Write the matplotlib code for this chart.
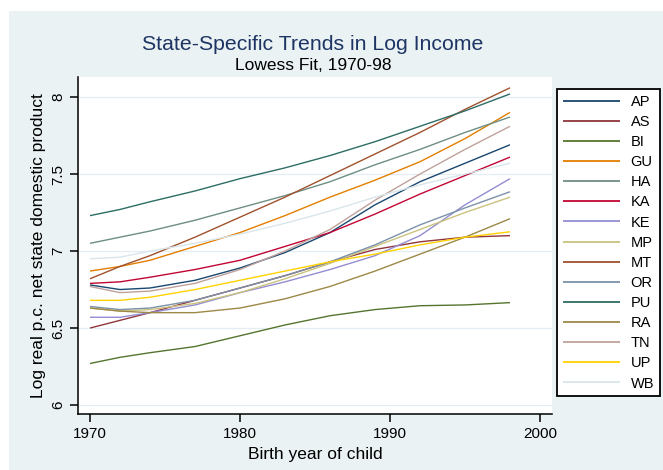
import matplotlib
matplotlib.use("Agg")
import matplotlib.pyplot as plt
from matplotlib.patches import Rectangle

plt.rcParams['font.family'] = ['Liberation Sans', 'DejaVu Sans']

# Birth years at which the smoothed curves are tabulated
years = [1970, 1972, 1974, 1977, 1980, 1983, 1986, 1989, 1992, 1995, 1998]

# Lowess-smoothed log real per-capita NSDP by state
AP = [6.78, 6.75, 6.76, 6.81, 6.89, 6.99, 7.12, 7.30, 7.45, 7.57, 7.69]
AS = [6.50, 6.55, 6.60, 6.68, 6.76, 6.84, 6.93, 7.01, 7.06, 7.09, 7.10]
BI = [6.27, 6.31, 6.34, 6.38, 6.45, 6.52, 6.58, 6.62, 6.645, 6.65, 6.665]
GU = [6.87, 6.90, 6.94, 7.03, 7.12, 7.23, 7.35, 7.46, 7.58, 7.73, 7.90]
HA = [7.05, 7.09, 7.13, 7.20, 7.28, 7.36, 7.45, 7.56, 7.66, 7.77, 7.87]
KA = [6.79, 6.80, 6.83, 6.88, 6.94, 7.03, 7.12, 7.24, 7.37, 7.49, 7.61]
KE = [6.57, 6.57, 6.60, 6.65, 6.73, 6.80, 6.88, 6.97, 7.10, 7.30, 7.47]
MP = [6.63, 6.61, 6.62, 6.66, 6.73, 6.82, 6.92, 7.03, 7.14, 7.25, 7.35]
MT = [6.82, 6.90, 6.97, 7.09, 7.22, 7.35, 7.49, 7.63, 7.77, 7.92, 8.06]
OR = [6.64, 6.62, 6.63, 6.68, 6.76, 6.84, 6.93, 7.04, 7.17, 7.28, 7.385]
PU = [7.23, 7.27, 7.32, 7.39, 7.47, 7.54, 7.62, 7.71, 7.81, 7.91, 8.02]
RA = [6.63, 6.61, 6.60, 6.60, 6.63, 6.69, 6.77, 6.87, 6.98, 7.09, 7.21]
TN = [6.77, 6.73, 6.74, 6.79, 6.88, 7.00, 7.14, 7.33, 7.50, 7.66, 7.81]
UP = [6.68, 6.68, 6.70, 6.75, 6.81, 6.87, 6.93, 6.98, 7.04, 7.09, 7.125]
WB = [6.95, 6.96, 7.00, 7.05, 7.11, 7.18, 7.26, 7.35, 7.43, 7.50, 7.57]

states = ["AP", "AS", "BI", "GU", "HA", "KA", "KE", "MP", "MT",
          "OR", "PU", "RA", "TN", "UP", "WB"]
series = [AP, AS, BI, GU, HA, KA, KE, MP, MT, OR, PU, RA, TN, UP, WB]

# Stata s2color pen sequence
colors = ["#1a476f", "#90353b", "#55752f", "#e37e00", "#6e8e84",
          "#c10534", "#938dd2", "#cac27e", "#a0522d", "#7b92a8",
          "#2d6d66", "#9c8847", "#bfa19c", "#ffd200", "#d9e6eb"]

xticks = [1970, 1980, 1990, 2000]
yticks = [6, 6.5, 7, 7.5, 8]
ytick_labels = ["6", "6.5", "7", "7.5", "8"]

W, H = 663, 470
fig = plt.figure(figsize=(W / 100, H / 100), dpi=100)
fig.patch.set_facecolor("white")

# graph region background
bg = Rectangle((9 / W, 0), 1 - 9 / W, (H - 11) / H,
               transform=fig.transFigure, facecolor="#eaf2f4",
               edgecolor="none", zorder=-10)
fig.patches.append(bg)

ax = fig.add_axes([78 / W, (H - 414) / H, (552 - 78) / W, (414 - 77) / H])
ax.set_zorder(1)
ax.set_facecolor("white")

for name, vals, c in zip(states, series, colors):
    ax.plot(years, vals, color=c, lw=1.0, label=name, solid_capstyle="butt")

ax.set_xlim(1969.2, 2000.8)
ax.set_ylim(5.942, 8.13)
ax.set_xticks(xticks)
ax.set_xticklabels([str(t) for t in xticks], fontsize=11)
ax.set_yticks(yticks)
ax.set_yticklabels(ytick_labels, fontsize=11)
for lab in ax.get_yticklabels():
    lab.set_rotation(90)
    lab.set_va("center")

ax.grid(axis="y", color="#e4edf1", lw=0.9, zorder=0)
ax.set_axisbelow(True)
for s in ["top", "right"]:
    ax.spines[s].set_visible(False)
for s in ["left", "bottom"]:
    ax.spines[s].set_linewidth(1.1)
ax.tick_params(axis="both", direction="out", length=6, width=1.1, pad=3)

ax.set_xlabel("Birth year of child", fontsize=12.5, labelpad=5)
ax.set_ylabel("Log real p.c. net state domestic product", fontsize=12.5,
              labelpad=4)

fig.text(313 / W, 1 - 44 / H, "State-Specific Trends in Log Income",
         ha="center", va="center", fontsize=15.3, color="#1e3463")
fig.text(313 / W, 1 - 66 / H, "Lowess Fit, 1970-98",
         ha="center", va="center", fontsize=12.5, color="black")

leg = fig.legend(loc="upper left", bbox_to_anchor=(557 / W, 1 - 89 / H),
                 bbox_transform=fig.transFigure, fontsize=10.5,
                 handlelength=3.9, handletextpad=0.75, labelspacing=0.42,
                 borderpad=0.4, borderaxespad=0, frameon=True,
                 fancybox=False, framealpha=1, facecolor="white")
leg.get_frame().set_edgecolor("black")
leg.get_frame().set_linewidth(1.3)
leg.set_zorder(5)
for h in leg.get_lines():
    h.set_linewidth(1.3)

fig.savefig("out.png", dpi=100, facecolor=fig.get_facecolor())
